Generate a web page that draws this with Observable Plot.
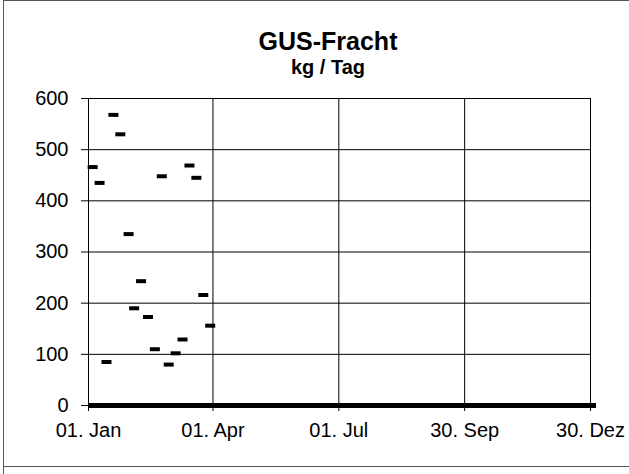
<!DOCTYPE html>
<html>
<head>
<meta charset="utf-8">
<script src="https://cdn.jsdelivr.net/npm/d3@7"></script>
<script src="https://cdn.jsdelivr.net/npm/@observablehq/plot@0.6"></script>
<style>
  html, body { margin: 0; padding: 0; background: #fff; }
  #wrap { position: relative; width: 629px; height: 474px; overflow: hidden; background: #fff;
          font-family: "Liberation Sans", Arial, sans-serif; }
  #wrap svg { position: absolute; left: 0; top: 0; overflow: visible; }
  .ttl { position: absolute; left: 0; width: 656px; text-align: center; font-weight: bold; color: #000; line-height: 1; white-space: nowrap; }
  .bl { position: absolute; background: #555; }
</style>
</head>
<body>
<div id="wrap">
  <div class="bl" style="left:3px; top:0; width:626px; height:1px;"></div>
  <div class="bl" style="left:3px; top:0; width:1px; height:474px;"></div>
  <div class="bl" style="left:3px; top:466px; width:626px; height:1px;"></div>
  <div id="chart"></div>
  <div class="ttl" style="top:29px; font-size:25px;">GUS-Fracht</div>
  <div class="ttl" style="top:57px; font-size:20px;">kg / Tag</div>
</div>
<script>
// Day of year (01. Jan = 0) and kg per day
const days   = [3, 8, 13, 18, 23, 29, 33, 38, 43, 48, 53, 58, 63, 68, 73, 78, 83, 88];
const values = [466, 435, 85, 568, 530, 335, 190, 243, 173, 110, 448, 80, 102, 129, 469, 445, 216, 156];

const xTicks = [0, 90, 181, 272, 363];
const xLabels = ["01. Jan", "01. Apr", "01. Jul", "30. Sep", "30. Dez"];
const yTicks = [0, 100, 200, 300, 400, 500, 600];
const baseline = [0];

const labelOf = new Map(xTicks.map((d, i) => [d, xLabels[i]]));
const data = days.map((d, i) => ({day: d, value: values[i]}));

const dash = { draw(context) { context.rect(-5, -2, 10, 4); } };

const chart = Plot.plot({
  width: 629,
  height: 466,
  marginLeft: 88,
  marginRight: 39,
  marginTop: 98,
  marginBottom: 61,
  style: { fontFamily: "'Liberation Sans', Arial, sans-serif", fontSize: "20px", color: "#000", background: "transparent", overflow: "visible" },
  x: { domain: [0, 363], ticks: xTicks, tickFormat: d => labelOf.get(d), tickSize: 6, tickPadding: 11, label: null },
  y: { domain: [0, 600], ticks: yTicks, tickSize: 7, tickPadding: 13, label: null },
  marks: [
    Plot.ruleX(xTicks, { stroke: "#000", strokeWidth: 1 }),
    Plot.ruleY(yTicks, { stroke: "#000", strokeWidth: 1 }),
    Plot.frame({ stroke: "#000" }),
    Plot.ruleY(baseline, { stroke: "#000", strokeWidth: 5, insetRight: -6 }),
    Plot.dot(data, { x: "day", y: "value", symbol: dash, fill: "#000", stroke: "none", r: 3 })
  ]
});
document.getElementById("chart").appendChild(chart);
</script>
</body>
</html>
